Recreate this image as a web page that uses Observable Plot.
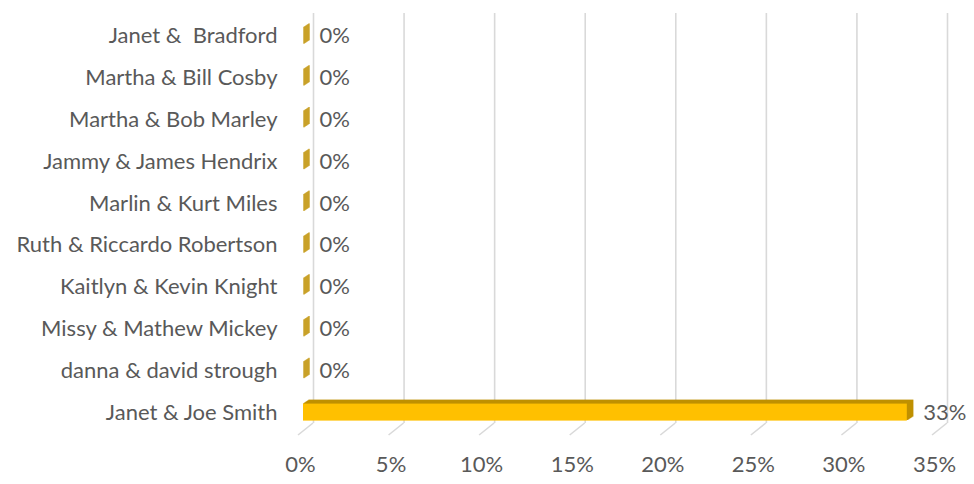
<!DOCTYPE html>
<html>
<head>
<meta charset="utf-8">
<script src="https://cdn.jsdelivr.net/npm/d3@7"></script>
<script src="https://cdn.jsdelivr.net/npm/@observablehq/plot@0.6"></script>
<style>
  html, body { margin: 0; padding: 0; background: #ffffff; }
  #chart svg { display: block; }
</style>
</head>
<body>
<div id="chart"></div>
<script>
// ---- data ----
const categories = [
  "Janet &  Bradford",
  "Martha & Bill Cosby",
  "Martha & Bob Marley",
  "Jammy & James Hendrix",
  "Marlin & Kurt Miles",
  "Ruth & Riccardo Robertson",
  "Kaitlyn & Kevin Knight",
  "Missy & Mathew Mickey",
  "danna & david strough",
  "Janet & Joe Smith"
];
const values = [0, 0, 0, 0, 0, 0, 0, 0, 0, 1 / 3];
const xTicks = [0, 0.05, 0.10, 0.15, 0.20, 0.25, 0.30, 0.35];

const rows = categories.map((c, i) => ({category: c, value: values[i]}));
const pct = d3.format(".0%");

const FRONT = "#FFC000";
const DARK = "#BF9000";
const GRID = "#D9D9D9";
const TEXT = "#595959";
const FONT = "Lato, 'Open Sans', sans-serif";
const FS = 22;

const depth = [1, 2, 3, 4, 5, 6];
const barInset = 12.4;

const extrusion = depth.map(k => Plot.barX(rows, {
  x: "value", y: "category",
  fill: DARK,
  insetTop: barInset, insetBottom: barInset,
  insetLeft: -0.6, insetRight: -0.6,
  dx: k, dy: -k * 2 / 3
}));

// floor slant segments of the gridlines (3D floor)
function floorMark(index, scales, values, dimensions) {
  const g = d3.create("svg:g");
  const x = scales.x;
  if (typeof x !== "function") return g.node();
  const yb = dimensions.height - dimensions.marginBottom;
  for (const t of xTicks) {
    g.append("line")
      .attr("x1", x(t) + 10).attr("y1", yb - 10)
      .attr("x2", x(t) - 5).attr("y2", yb + 2)
      .attr("stroke", GRID).attr("stroke-width", 1.6);
  }
  return g.node();
}

const chart = Plot.plot({
  width: 974,
  height: 484,
  marginLeft: 303,
  marginRight: 37,
  marginTop: 15,
  marginBottom: 51,
  style: {fontFamily: FONT, fontSize: FS + "px", color: TEXT, background: "#ffffff"},
  x: {domain: [0, 0.35], axis: null},
  y: {domain: categories, padding: 0, round: false, axis: null},
  marks: [
    Plot.ruleX(xTicks, {x: d => d, stroke: GRID, strokeWidth: 1.6, dx: 10, insetTop: -2, insetBottom: 10}),
    floorMark,
    ...extrusion,
    Plot.barX(rows, {
      x: "value", y: "category", fill: FRONT,
      insetTop: barInset, insetBottom: barInset
    }),
    Plot.text(rows, {
      x: "value", y: "category", text: d => pct(d.value),
      textAnchor: "start", dx: 16, fill: TEXT, fontSize: FS
    }),
    Plot.text(categories, {
      y: d => d, text: d => d, frameAnchor: "left", textAnchor: "end",
      dx: -26, fill: TEXT, fontSize: FS
    }),
    Plot.text(xTicks, {
      x: d => d, text: d => pct(d), frameAnchor: "bottom",
      dy: 38, dx: -3, fill: TEXT, fontSize: FS
    })
  ]
});

document.getElementById("chart").appendChild(chart);
</script>
</body>
</html>
